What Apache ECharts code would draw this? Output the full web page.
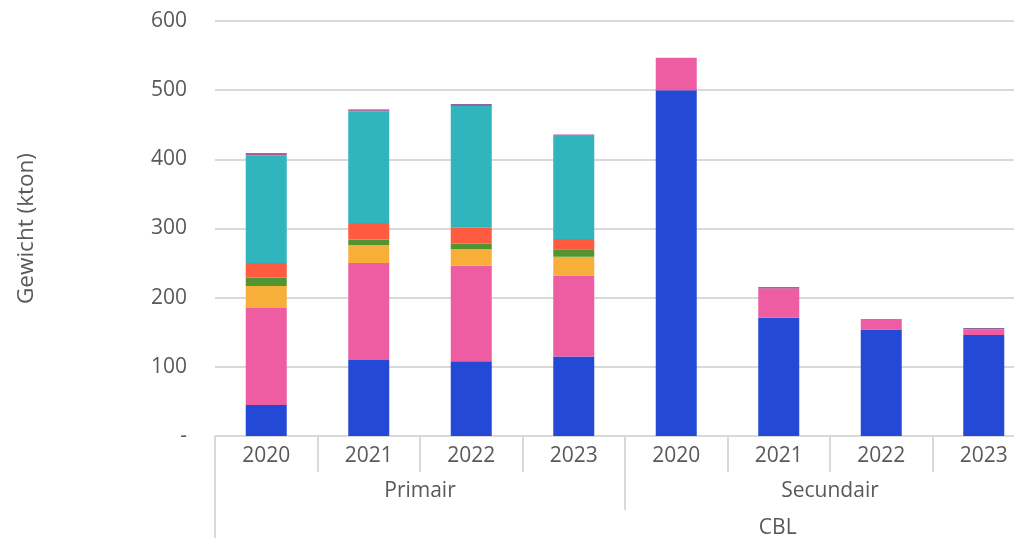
<!DOCTYPE html>
<html>
<head>
<meta charset="utf-8">
<script src="https://cdn.jsdelivr.net/npm/echarts@6/dist/echarts.min.js"></script>
<style>
  html, body { margin: 0; padding: 0; background: #fff; }
  #chart { width: 1014px; height: 538px; }
</style>
</head>
<body>
<div id="chart"></div>
<script>
// categorieen
const years = ['2020', '2021', '2022', '2023', '2020', '2021', '2022', '2023']
const groups = ['Primair', 'Secundair']
const topGroup = 'CBL'
// CBL loopt door buiten beeld; label staat rond categorie-positie 5.5
const topGroupCenter = 5.49
const yTicks = [0, 100, 200, 300, 400, 500, 600]

// waarden per stapel (kton), van onder naar boven
const blauw = [45, 110, 108, 115, 500, 171, 154, 146]
const roze = [140, 140, 138, 117, 47, 42, 15, 8]
const oranje = [32, 26, 24, 27, 0, 0, 0, 0]
const groen = [12, 8, 8, 11, 0, 0, 0, 0]
const rood = [21, 24, 23, 15, 0, 0, 0, 0]
const turkoois = [156, 161, 176, 149, 0, 0, 0, 0]
const magenta = [3, 2, 2, 2, 0, 1, 0, 1]
const paars = [0, 1, 1, 0, 0, 1, 0, 1]

const stacks = [
  { name: 'Blauw', data: blauw, color: '#2349D6' },
  { name: 'Roze', data: roze, color: '#EE5DA2' },
  { name: 'Oranje', data: oranje, color: '#F8AF3A' },
  { name: 'Groen', data: groen, color: '#519431' },
  { name: 'Rood', data: rood, color: '#FF5B40' },
  { name: 'Turkoois', data: turkoois, color: '#31B5BC' },
  { name: 'Magenta', data: magenta, color: '#B4569A' },
  { name: 'Paars', data: paars, color: '#6B3F94' }
]

const textColor = '#595959'
const lineColor = '#D9D9D9'
const font = 'Open Sans'

const myChart = echarts.init(document.getElementById('chart'))
myChart.setOption({
  animation: false,
  grid: {
    left: 215,
    top: 21,
    bottom: 102,
    width: 820,
    outerBoundsMode: 'none'
  },
  xAxis: [
    {
      type: 'category',
      position: 'bottom',
      offset: 0,
      data: years,
      axisLine: { show: true, lineStyle: { color: lineColor, width: 2 } },
      axisTick: { show: true, interval: 0, length: 36, lineStyle: { color: lineColor, width: 2 } },
      axisLabel: { interval: 0, color: textColor, fontSize: 21, fontFamily: font, margin: 10 }
    },
    {
      type: 'category',
      position: 'bottom',
      offset: 0,
      data: groups,
      axisLine: { show: false },
      axisTick: { show: true, interval: 0, length: 74, lineStyle: { color: lineColor, width: 2 } },
      axisLabel: { interval: 0, color: textColor, fontSize: 21, fontFamily: font, margin: 45 }
    },
    {
      type: 'value',
      position: 'bottom',
      offset: 0,
      min: 0,
      max: years.length,
      axisLine: { show: false },
      splitLine: { show: false },
      axisTick: { show: true, customValues: [0], length: 110, lineStyle: { color: lineColor, width: 2 } },
      axisLabel: {
        color: textColor,
        fontSize: 21,
        fontFamily: font,
        margin: 82,
        customValues: [topGroupCenter],
        formatter: () => topGroup
      }
    }
  ],
  yAxis: {
    type: 'value',
    min: yTicks[0],
    max: yTicks[yTicks.length - 1],
    interval: 100,
    name: 'Gewicht (kton)',
    nameLocation: 'middle',
    nameGap: 177,
    nameTextStyle: { color: textColor, fontSize: 22.5, fontFamily: font },
    axisLine: { show: false },
    axisTick: { show: false },
    axisLabel: {
      color: textColor,
      fontSize: 21,
      fontFamily: font,
      margin: 28,
      formatter: v => (v === 0 ? '-' : String(v))
    },
    splitLine: { lineStyle: { color: lineColor, width: 2 } }
  },
  series: stacks.map(s => ({
    name: s.name,
    type: 'bar',
    stack: 'totaal',
    xAxisIndex: 0,
    barWidth: 41,
    itemStyle: { color: s.color },
    data: s.data
  }))
})
</script>
</body>
</html>
